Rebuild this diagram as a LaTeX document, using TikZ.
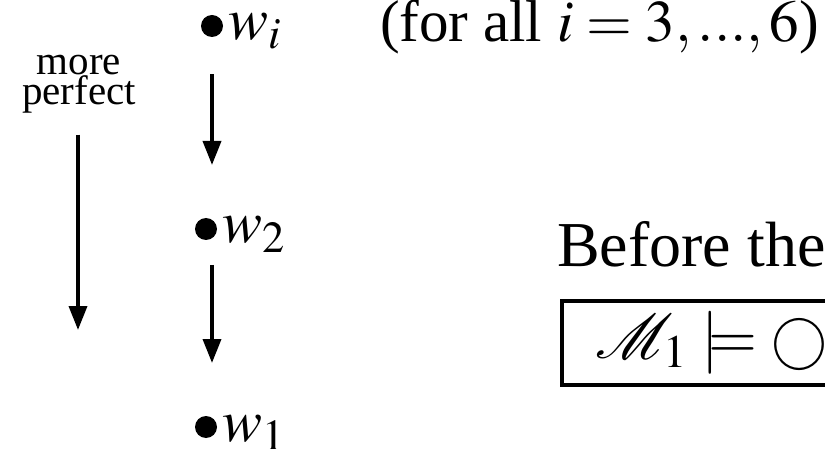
\documentclass[tikz,border=0pt]{standalone}
\usepackage{mathptmx}
\usepackage{fontspec}
\setmainfont{Liberation Serif}
\usetikzlibrary{arrows.meta, calc}

\begin{document}
\begin{tikzpicture}[x=1pt, y=-1pt]
\tikzset{dot/.style={circle, fill, inner sep=0, minimum size=22pt},
  lab/.style={anchor=base west, inner sep=0, font=\fontsize{60}{64}\selectfont},
  big/.style={anchor=base west, inner sep=0, font=\fontsize{64}{68}\selectfont},
  arr/.style={line width=3.5pt, -{Triangle[length=24pt, width=18pt]}}}
\path[use as bounding box] (0,0) rectangle (825,449);
\clip (0,0) rectangle (825,449);
% worlds
\node[dot] (wi) at (212,26) {};
\node[dot] (wtwo) at (206,229) {};
\node[dot] (wone) at (206,427) {};
\node[lab] (wilab) at ([xshift=5pt, yshift=-14pt]wi.east) {$w_i$};
\node[lab] (wtwolab) at ([xshift=5pt, yshift=-14pt]wtwo.east) {$w_2$};
\node[lab] (wonelab) at ([xshift=5pt, yshift=-14pt]wone.east) {$w_1$};
\node[lab, font=\fontsize{59}{64}\selectfont] (cond) at (380,42) {(for all $i = 3, ..., 6$)};
\draw[arr, shorten <=37pt, shorten >=64pt] (wi) -- (wi |- wtwo);
\draw[arr, shorten <=36pt, shorten >=64pt] (wi |- wtwo) -- (wi |- wone);
% ordering
\node[align=center, inner sep=0, anchor=north, font=\fontsize{41}{29}\selectfont] (perf) at (79,55) {more\\perfect};
\coordinate (low) at (78,330);
\draw[arr] ($(perf.south -| low)+(0,21)$) -- (low);
% model
\node[big] (before) at (557,266) {Before the};
\node[draw, line width=3.5pt, anchor=north west, minimum height=84pt, text width=380pt, align=left, inner xsep=34pt, font=\fontsize{63}{66}\selectfont] (frm) at (560,299) {\raisebox{-6pt}{$\mathcal{M}_1 \models \mbox{\fontsize{56}{60}\selectfont$\bigcirc$}$}};
\end{tikzpicture}
\end{document}
